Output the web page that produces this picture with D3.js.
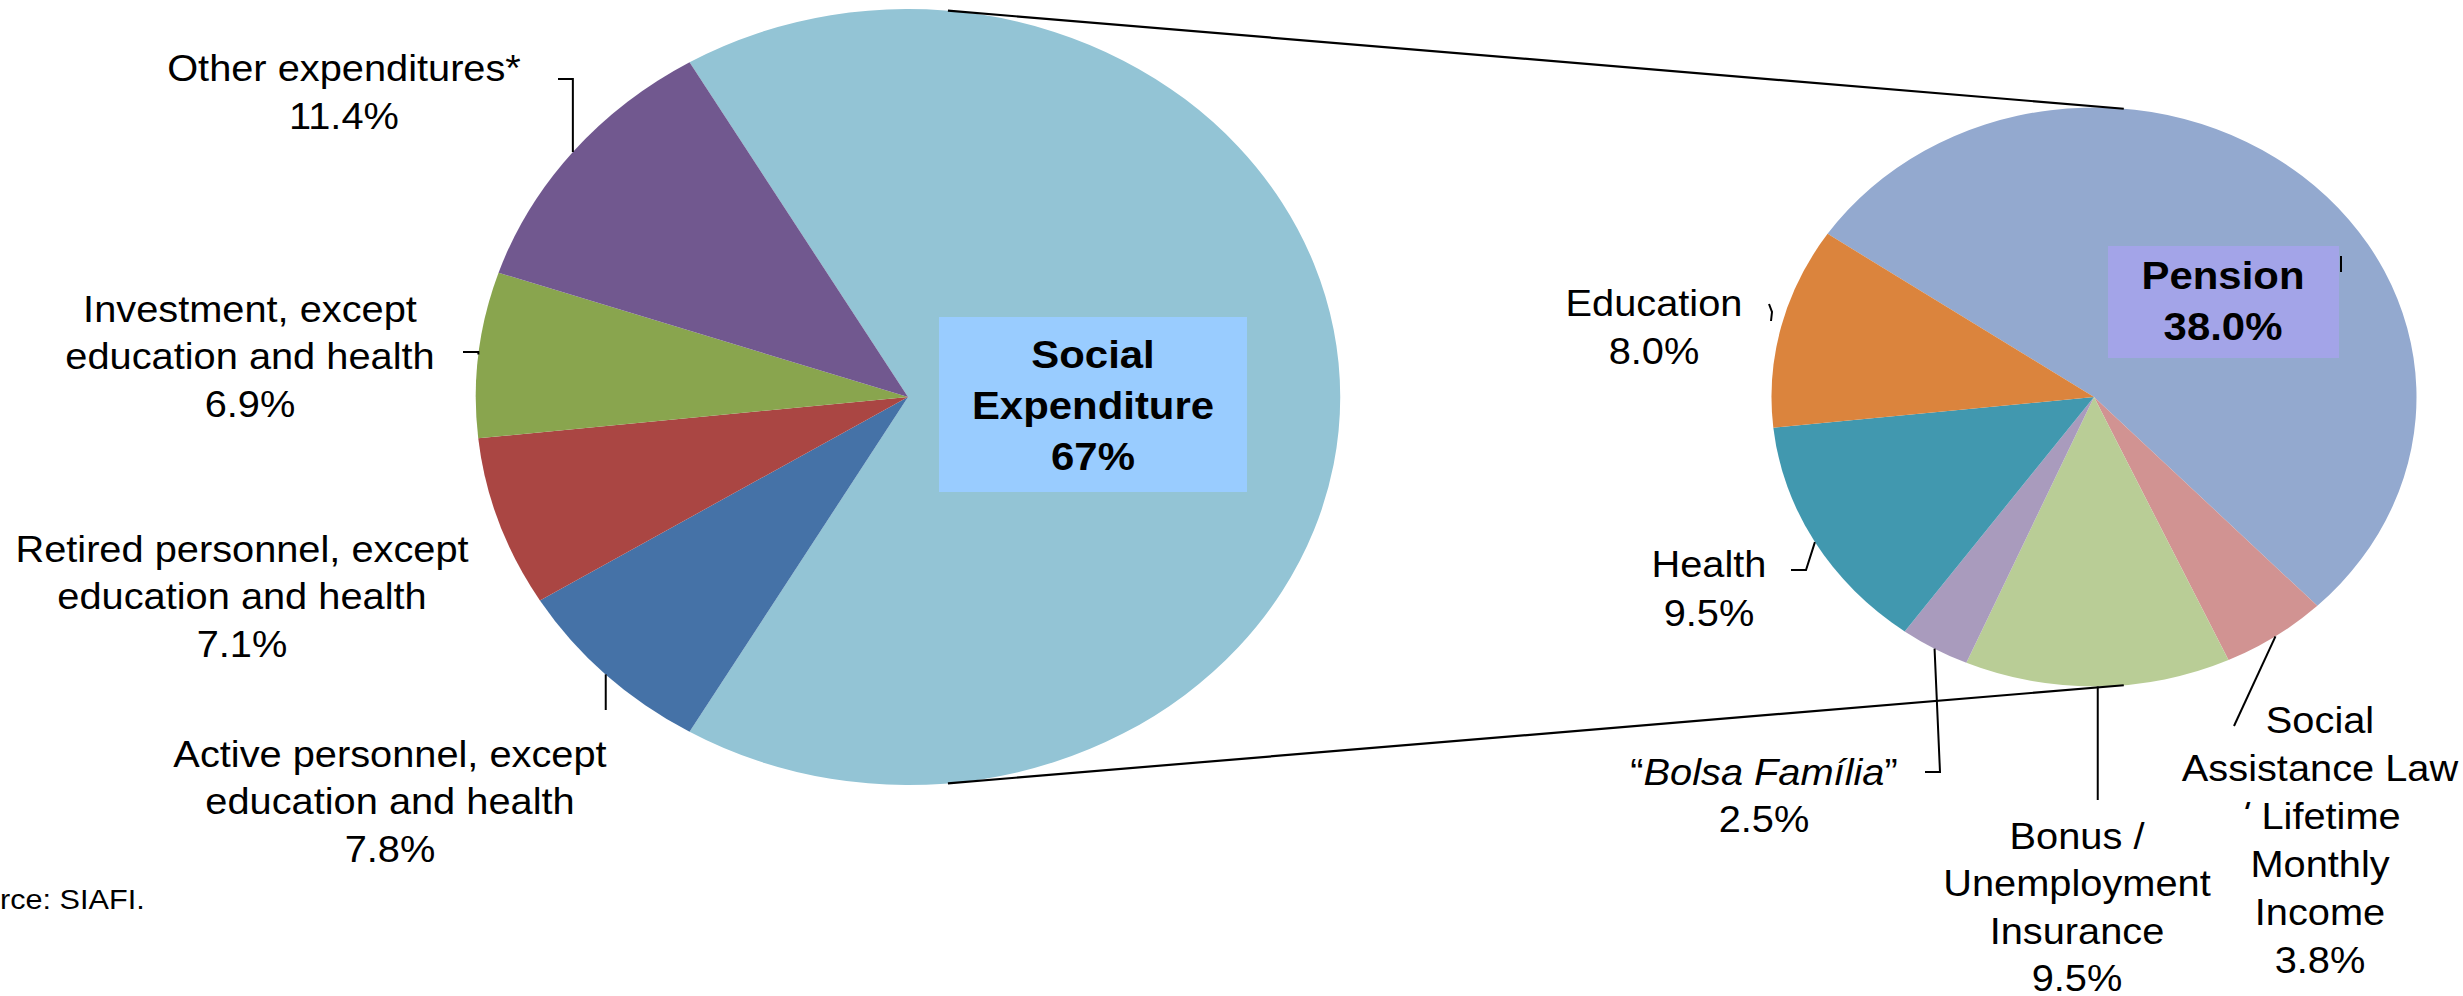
<!DOCTYPE html>
<html>
<head>
<meta charset="utf-8">
<script src="https://cdn.jsdelivr.net/npm/d3@7"></script>
<style>
  html, body { margin: 0; padding: 0; background: #fff; }
  svg { display: block; }
  text { font-family: "Liberation Sans", Arial, Helvetica, sans-serif; fill: #000; }
</style>
</head>
<body>
<svg id="chart" width="2463" height="996"></svg>
<script>
// ---- Data: federal expenditure breakdown (% of total) ----
const mainCategories = [
  "Social Expenditure",
  "Active personnel, except education and health",
  "Retired personnel, except education and health",
  "Investment, except education and health",
  "Other expenditures*"
];
const mainValues = [67, 7.8, 7.1, 6.9, 11.4];
const mainDigits = [0, 1, 1, 1, 1];

// ---- Data: breakdown of social expenditure (% of total) ----
const socialCategories = [
  "Pension",
  "Social Assistance Law / Lifetime Monthly Income",
  "Bonus / Unemployment Insurance",
  "Bolsa Família",
  "Health",
  "Education"
];
const socialValues = [38.0, 3.8, 9.5, 2.5, 9.5, 8.0];
const socialDigits = [1, 1, 1, 1, 1, 1];

const sourceNote = "Source: SIAFI.";

// ---- Styles ----
const mainColors = ["#93C4D5", "#4572A7", "#AA4643", "#89A54E", "#71588F"];
const socialColors = ["#93A9CF", "#D19392", "#B9CD96", "#A99BBD", "#4198AF", "#DB843D"];

const W = 2463, H = 996;
const xStretch = 1.114;     // both pies are drawn as wide ellipses
const textStretch = 1.075;  // text is widened slightly to suit
const fontSize = 37;
const boldSize = 39;
const deg = Math.PI / 180;

const mainPie = { cx: 908, cy: 397, r: 388 };
const socialPie = { cx: 2094, cy: 397, r: 289.5 };

const svg = d3.select("#chart");
svg.append("rect").attr("width", W).attr("height", H).attr("fill", "#fff");

// ---- Pie layouts ----
const mainTotal = d3.sum(mainValues);
const mainStart = 90 * deg - (mainValues[0] / mainTotal) * Math.PI; // social slice centred on the right
const mainArcs = d3.pie().sort(null).value(d => d)
  .startAngle(mainStart).endAngle(mainStart + 2 * Math.PI)(mainValues);

const socialStart = -55.7 * deg;
const socialArcs = d3.pie().sort(null).value(d => d)
  .startAngle(socialStart).endAngle(socialStart + 2 * Math.PI)(socialValues);

function drawPie(p, arcs, colors, cls) {
  const g = svg.append("g")
    .attr("class", cls)
    .attr("transform", `translate(${p.cx},${p.cy}) scale(${xStretch},1)`);
  const arc = d3.arc().innerRadius(0).outerRadius(p.r);
  g.selectAll("path").data(arcs).join("path")
    .attr("d", arc)
    .attr("fill", (d, i) => colors[i]);
}
drawPie(mainPie, mainArcs, mainColors, "pie-main");
drawPie(socialPie, socialArcs, socialColors, "pie-social");

function ellipsePoint(p, a) {
  return [p.cx + Math.sin(a) * p.r * xStretch, p.cy - Math.cos(a) * p.r];
}
function edgePoint(p, d) {
  return ellipsePoint(p, (d.startAngle + d.endAngle) / 2);
}

// ---- Connector lines between the two pies ----
const connectorAngle = 5.3 * deg;
[connectorAngle, Math.PI - connectorAngle].forEach(a => {
  const s = ellipsePoint(mainPie, a), e = ellipsePoint(socialPie, a);
  svg.append("line")
    .attr("x1", s[0]).attr("y1", s[1]).attr("x2", e[0]).attr("y2", e[1])
    .attr("stroke", "#000").attr("stroke-width", 2.2);
});

// ---- Label layout ----
const mainLabels = [
  { lines: ["Social", "Expenditure"], x: 1093, y: 368, lh: 51, bold: true,
    box: { x: 939, y: 317, w: 308, h: 175, fill: "#99CCFF" } },
  { lines: ["Active personnel, except", "education and health"], x: 390, y: 767, lh: 47.5,
    leader: { type: "vertical", y: 710 } },
  { lines: ["Retired personnel, except", "education and health"], x: 242, y: 562, lh: 47.5 },
  { lines: ["Investment, except", "education and health"], x: 250, y: 322, lh: 47.5,
    leader: { type: "elbow", from: [463, 352] } },
  { lines: ["Other expenditures*"], x: 344, y: 81, lh: 48.5,
    leader: { type: "elbow", from: [558, 79] } }
];

const socialLabels = [
  { lines: ["Pension"], x: 2223, y: 289, lh: 51, bold: true,
    box: { x: 2108, y: 246, w: 231, h: 112, fill: "#A3A4E8" },
    leader: { type: "tick", pts: [[2341, 256], [2341, 272]] } },
  { lines: ["Social", "Assistance Law", "/ Lifetime", "Monthly", "Income"], x: 2320, y: 733, lh: 48,
    leader: { type: "path", pts: [[2234, 726]] }, clipHole: [0, 809, 2255, 835] },
  { lines: ["Bonus /", "Unemployment", "Insurance"], x: 2077, y: 849, lh: 47.5,
    leader: { type: "vertical", y: 800 } },
  { lines: [[{ t: "“" }, { t: socialCategories[3], i: true }, { t: "”" }]], x: 1764, y: 785, lh: 47,
    leader: { type: "path", pts: [[1925, 772], [1940, 772]] } },
  { lines: ["Health"], x: 1709, y: 577, lh: 49,
    leader: { type: "path", pts: [[1791, 570], [1806, 570]] } },
  { lines: ["Education"], x: 1654, y: 316, lh: 48,
    leader: { type: "tick", pts: [[1769, 304], [1772, 312], [1771, 321]] } }
];

function leaderPath(ld, E) {
  if (ld.type === "elbow") return [ld.from, [E[0], ld.from[1]], E];
  if (ld.type === "vertical") return [[E[0], ld.y], E];
  if (ld.type === "tick") return ld.pts;
  return [...ld.pts, E];
}

const leaderLayer = svg.append("g").attr("class", "leaders");
const labelLayer = svg.append("g").attr("class", "labels");
const defs = svg.append("defs");

function drawLabels(p, arcs, values, digits, labels, prefix) {
  labels.forEach((L, i) => {
    const E = edgePoint(p, arcs[i]);
    if (L.leader) {
      leaderLayer.append("path")
        .attr("d", d3.line()(leaderPath(L.leader, E)))
        .attr("fill", "none").attr("stroke", "#000").attr("stroke-width", 2);
    }
    const g = labelLayer.append("g");
    if (L.clipHole) {
      const [x0, y0, x1, y1] = L.clipHole;
      const id = `${prefix}-clip-${i}`;
      defs.append("clipPath").attr("id", id)
        .append("path")
        .attr("clip-rule", "evenodd")
        .attr("d", `M0,0H${W}V${H}H0Z M${x0},${y0}H${x1}V${y1}H${x0}Z`);
      g.attr("clip-path", `url(#${id})`);
    }
    if (L.box) {
      g.append("rect")
        .attr("x", L.box.x).attr("y", L.box.y)
        .attr("width", L.box.w).attr("height", L.box.h)
        .attr("fill", L.box.fill);
    }
    const pct = d3.format(`.${digits[i]}f`)(values[i]) + "%";
    const t = g.append("text")
      .attr("transform", `translate(${L.x},${L.y}) scale(${textStretch},1)`)
      .attr("text-anchor", "middle")
      .attr("font-size", L.bold ? boldSize : fontSize)
      .attr("font-weight", L.bold ? "bold" : null);
    [...L.lines, pct].forEach((ln, k) => {
      const ts = t.append("tspan").attr("x", 0).attr("y", k * L.lh);
      if (typeof ln === "string") ts.text(ln);
      else ln.forEach(seg => ts.append("tspan")
        .attr("font-style", seg.i ? "italic" : null).text(seg.t));
    });
  });
}

drawLabels(mainPie, mainArcs, mainValues, mainDigits, mainLabels, "main");
drawLabels(socialPie, socialArcs, socialValues, socialDigits, socialLabels, "social");

// ---- Source note (runs off the left edge) ----
svg.append("text")
  .attr("transform", `translate(-54.5,909) scale(${textStretch},1)`)
  .attr("font-size", 28.5)
  .text(sourceNote);
</script>
</body>
</html>
